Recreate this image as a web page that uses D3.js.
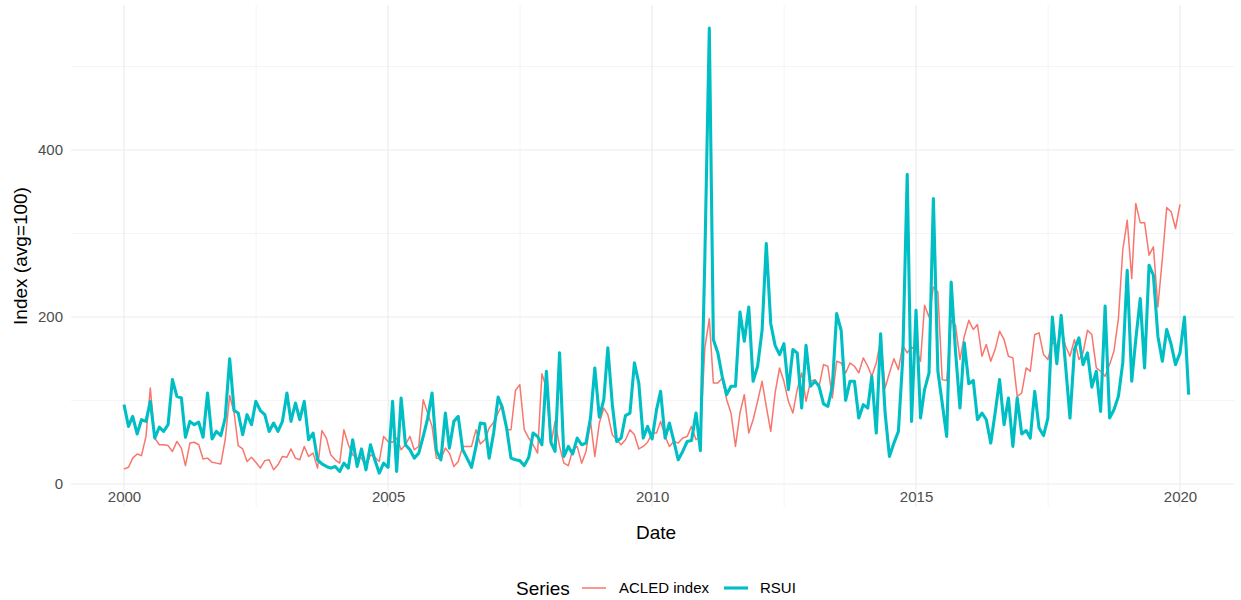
<!DOCTYPE html>
<html>
<head>
<meta charset="utf-8">
<script src="https://cdn.jsdelivr.net/npm/d3@7"></script>
<style>
  html, body { margin: 0; padding: 0; background: #ffffff; }
  svg { display: block; }
  text { font-family: "Liberation Sans", Arial, Helvetica, sans-serif; }
</style>
</head>
<body>
<svg id="chart" width="1241" height="600"></svg>
<script>
// Monthly series, first month January 2000
const startMonth = "2000-01";

const acledIndex = [
  18, 20, 31, 36, 34, 57, 115, 55, 47, 47, 46, 39, 51, 43, 22, 49, 50, 47, 30, 31, 26, 25, 24, 53,
  106, 85, 46, 42, 27, 32, 26, 19, 28, 29, 17, 23, 33, 32, 42, 31, 29, 45, 33, 37, 19, 64, 55, 35,
  29, 25, 65, 47, 35, 31, 31, 21, 35, 32, 27, 57, 51, 50, 55, 41, 47, 57, 41, 45, 101, 85, 69,
  31, 30, 43, 37, 21, 27, 45, 45, 45, 65, 48, 53, 67, 74, 85, 95, 65, 65, 112, 119, 65, 55, 47, 37, 132,
  115, 47, 75, 45, 25, 22, 41, 45, 25, 39, 75, 33, 73, 91, 83, 59, 53, 47, 53, 65, 59, 42, 45, 50,
  61, 61, 75, 57, 45, 51, 49, 55, 57, 69, 53, 57, 163, 198, 121, 121, 127, 101, 85, 45, 85, 107, 61,
  77, 99, 123, 93, 63, 109, 139, 123, 99, 85, 113, 133, 99, 123, 125, 117, 143, 141, 103, 147, 145, 133, 145, 141,
  133, 151, 141, 129, 145, 172, 115, 133, 150, 137, 166, 157, 164, 161, 147, 214, 200, 236, 230, 125, 124, 196, 190, 149,
  177, 196, 185, 191, 153, 167, 147, 161, 183, 173, 153, 151, 105, 109, 139, 135, 179, 181, 155, 149, 170, 165, 185, 165,
  153, 173, 149, 157, 184, 179, 139, 135, 129, 143, 159, 198, 280, 316, 246, 336, 313, 313, 274, 284, 212, 270, 331, 326, 306, 335
];

const rsui = [
  95, 69, 81, 60, 77, 75, 99, 55, 68, 63, 71, 125, 105, 103, 56, 75, 71, 74, 56, 109, 54, 63, 58, 79,
  150, 88, 85, 59, 83, 71, 99, 88, 83, 63, 73, 63, 75, 109, 75, 97, 77, 99, 53, 61, 29, 24, 21, 19,
  21, 15, 25, 19, 53, 21, 42, 17, 47, 29, 13, 25, 20, 99, 15, 103, 47, 41, 31, 37, 57, 78, 109,
  40, 29, 85, 43, 75, 81, 41, 31, 20, 45, 73, 72, 31, 61, 104, 92, 67, 31, 29, 28, 22, 32, 61, 57, 47,
  135, 50, 39, 157, 33, 45, 36, 55, 47, 49, 79, 139, 80, 101, 163, 95, 51, 55, 82, 85, 145, 121, 55, 69,
  54, 89, 111, 55, 73, 51, 29, 39, 51, 52, 85, 40, 270, 546, 173, 157, 129, 107, 117, 117, 206, 171, 212,
  123, 141, 184, 288, 192, 166, 155, 168, 113, 161, 157, 91, 166, 117, 123, 117, 96, 93, 117, 204, 184, 100, 123, 123,
  79, 95, 91, 129, 61, 180, 85, 33, 49, 63, 150, 371, 75, 208, 79, 113, 133, 342, 135, 97, 57, 242, 159, 91,
  169, 120, 124, 77, 85, 77, 49, 85, 125, 71, 103, 45, 103, 60, 64, 55, 111, 67, 58, 79, 200, 144, 202, 141,
  79, 161, 175, 143, 157, 116, 135, 87, 213, 79, 89, 105, 145, 256, 123, 173, 222, 139, 262, 250, 177, 147, 185, 167, 143, 157, 200, 107
];

const seriesNames = ["ACLED index", "RSUI"];
const seriesColors = ["#F8766D", "#00BFC4"];
const yMajorTicks = [0, 200, 400];
const yMinorTicks = [100, 300, 500];
const xMajorYears = [2000, 2005, 2010, 2015, 2020];
const xMinorYears = [2002.5, 2007.5, 2012.5, 2017.5];

const t0 = d3.utcParse("%Y-%m")(startMonth);
const toRows = vals => vals.map((v, i) => ({ date: d3.utcMonth.offset(t0, i), value: v }));
const series = [
  { name: seriesNames[0], color: seriesColors[0], width: 1.5, rows: toRows(acledIndex) },
  { name: seriesNames[1], color: seriesColors[1], width: 3.1, rows: toRows(rsui) }
];

const svg = d3.select("#chart");
const panel = { left: 71, right: 1234, top: 5, bottom: 507 };
const tickFont = "15px", titleFont = "19px";

const yearDate = y => {
  const yi = Math.floor(y);
  const d0 = Date.UTC(yi, 0, 1), d1 = Date.UTC(yi + 1, 0, 1);
  return new Date(d0 + (y - yi) * (d1 - d0));
};

const x = d3.scaleUtc()
  .domain([yearDate(2000), yearDate(2020)])
  .range([124, 1180]);
const y = d3.scaleLinear()
  .domain([0, 400])
  .range([484, 150]);

// grid
const grid = svg.append("g");
grid.selectAll("line.ymin").data(yMinorTicks).join("line")
  .attr("x1", panel.left).attr("x2", panel.right)
  .attr("y1", d => y(d)).attr("y2", d => y(d))
  .attr("stroke", "#ebebeb").attr("stroke-width", 0.55);
grid.selectAll("line.xmin").data(xMinorYears).join("line")
  .attr("y1", panel.top).attr("y2", panel.bottom)
  .attr("x1", d => x(yearDate(d))).attr("x2", d => x(yearDate(d)))
  .attr("stroke", "#ebebeb").attr("stroke-width", 0.55);
grid.selectAll("line.ymaj").data(yMajorTicks).join("line")
  .attr("x1", panel.left).attr("x2", panel.right)
  .attr("y1", d => y(d)).attr("y2", d => y(d))
  .attr("stroke", "#ebebeb").attr("stroke-width", 1.1);
grid.selectAll("line.xmaj").data(xMajorYears).join("line")
  .attr("y1", panel.top).attr("y2", panel.bottom)
  .attr("x1", d => x(yearDate(d))).attr("x2", d => x(yearDate(d)))
  .attr("stroke", "#ebebeb").attr("stroke-width", 1.1);

// lines
const line = d3.line().x(d => x(d.date)).y(d => y(d.value));
svg.append("g").selectAll("path").data(series).join("path")
  .attr("d", d => line(d.rows))
  .attr("fill", "none")
  .attr("stroke", d => d.color)
  .attr("stroke-width", d => d.width)
  .attr("stroke-linejoin", "round")
  .attr("stroke-linecap", "butt");

// axes
const xAxis = d3.axisBottom(x)
  .tickValues(xMajorYears.map(yearDate))
  .tickFormat(d3.utcFormat("%Y"))
  .tickSize(0).tickPadding(0);
const gx = svg.append("g").attr("transform", `translate(0,${panel.bottom - 16})`).call(xAxis);
gx.select(".domain").remove();
gx.selectAll("text").attr("fill", "#4d4d4d").style("font-size", tickFont);

const yAxis = d3.axisLeft(y).tickValues(yMajorTicks).tickSize(0).tickPadding(8);
const gy = svg.append("g").attr("transform", `translate(${panel.left},0)`).call(yAxis);
gy.select(".domain").remove();
gy.selectAll("text").attr("fill", "#4d4d4d").style("font-size", tickFont);

// axis titles
svg.append("text")
  .attr("x", 656).attr("y", 539)
  .attr("text-anchor", "middle")
  .style("font-size", titleFont).attr("fill", "#000")
  .text("Date");
svg.append("text")
  .attr("transform", `translate(27,${(panel.top + panel.bottom) / 2}) rotate(-90)`)
  .attr("text-anchor", "middle")
  .style("font-size", titleFont).attr("fill", "#000")
  .text("Index (avg=100)");

// legend
const legend = svg.append("g").attr("transform", "translate(0,588)");
legend.append("text").attr("x", 516).attr("y", 6.8)
  .style("font-size", titleFont).attr("fill", "#000").text("Series");
const keyX = [582, 724];
const labelX = [619, 760];
series.forEach((s, i) => {
  legend.append("line")
    .attr("x1", keyX[i]).attr("x2", keyX[i] + 24)
    .attr("y1", 0).attr("y2", 0)
    .attr("stroke", s.color).attr("stroke-width", s.width);
  legend.append("text").attr("x", labelX[i]).attr("y", 5.4)
    .style("font-size", tickFont).attr("fill", "#000").text(s.name);
});
</script>
</body>
</html>
